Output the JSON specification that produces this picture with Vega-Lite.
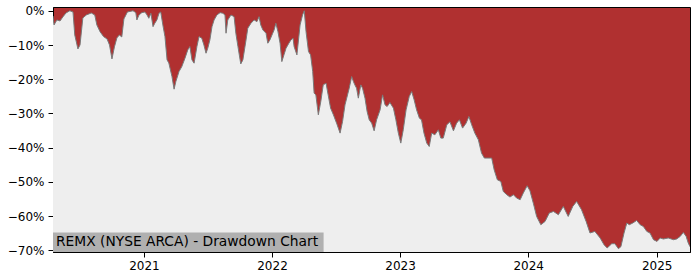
{
"$schema": "https://vega.github.io/schema/vega-lite/v6.json",
"width": 637,
"height": 245,
"autosize": {"type": "none"},
"padding": {"left": 53, "top": 7, "right": 10, "bottom": 28},
"background": "white",
"config": {
  "font": "DejaVu Sans",
  "view": {"fill": "#b03030", "stroke": "#000000", "strokeWidth": 1},
  "axis": {"grid": false, "domainColor": "#000000", "tickColor": "#000000", "labelColor": "#000000", "labelFont": "DejaVu Sans", "labelFontSize": 12, "tickSize": 5, "title": null, "labelOverlap": false}
},
"resolve": {"axis": {"x": "independent", "y": "independent"}},
"datasets": {"dd": [
{"date":"2020-04-17","dd":-1.52},{"date":"2020-04-20","dd":-4.14},{"date":"2020-04-28","dd":-2.68},{"date":"2020-05-07","dd":-2.98},{"date":"2020-05-15","dd":-1.81},{"date":"2020-05-24","dd":-0.64},{"date":"2020-06-04","dd":0},{"date":"2020-06-13","dd":-0.35},{"date":"2020-06-18","dd":-7.06},{"date":"2020-06-27","dd":-11.14},{"date":"2020-07-03","dd":-9.98},{"date":"2020-07-11","dd":-2.10},{"date":"2020-07-21","dd":-1.23},{"date":"2020-08-04","dd":-0.64},{"date":"2020-08-14","dd":-1.23},{"date":"2020-08-20","dd":-4.14},{"date":"2020-08-29","dd":-6.10},{"date":"2020-09-08","dd":-7.55},{"date":"2020-09-18","dd":-8.23},{"date":"2020-09-25","dd":-9.98},{"date":"2020-10-02","dd":-14.06},{"date":"2020-10-09","dd":-10.56},{"date":"2020-10-16","dd":-7.93},{"date":"2020-10-23","dd":-7.06},{"date":"2020-10-30","dd":-7.64},{"date":"2020-11-05","dd":-2.39},{"date":"2020-11-15","dd":-0.35},{"date":"2020-12-01","dd":0},{"date":"2020-12-09","dd":-0.55},{"date":"2020-12-12","dd":-2.68},{"date":"2020-12-18","dd":-1.23},{"date":"2020-12-26","dd":-0.55},
{"date":"2021-01-04","dd":-0.35},{"date":"2021-01-10","dd":-1.23},{"date":"2021-01-15","dd":-2.19},{"date":"2021-01-21","dd":-0.73},{"date":"2021-01-27","dd":-4.64},{"date":"2021-02-01","dd":-3.65},{"date":"2021-02-07","dd":-2.68},{"date":"2021-02-13","dd":-0.73},{"date":"2021-02-18","dd":-0.35},{"date":"2021-02-24","dd":-4.14},{"date":"2021-03-02","dd":-7.55},{"date":"2021-03-08","dd":-14.35},{"date":"2021-03-13","dd":-15.23},{"date":"2021-03-22","dd":-19.22},{"date":"2021-03-28","dd":-22.90},{"date":"2021-04-02","dd":-20.68},{"date":"2021-04-11","dd":-17.76},{"date":"2021-04-19","dd":-16.31},{"date":"2021-04-28","dd":-13.86},{"date":"2021-05-06","dd":-11.43},{"date":"2021-05-12","dd":-10.47},{"date":"2021-05-18","dd":-14.35},{"date":"2021-05-24","dd":-15.31},{"date":"2021-06-01","dd":-10.47},{"date":"2021-06-07","dd":-7.55},{"date":"2021-06-15","dd":-8.02},{"date":"2021-06-21","dd":-9.98},{"date":"2021-06-27","dd":-12.40},{"date":"2021-07-02","dd":-10.94},{"date":"2021-07-08","dd":-8.52},{"date":"2021-07-14","dd":-4.64},{"date":"2021-07-20","dd":-2.68},{"date":"2021-07-28","dd":-1.23},{"date":"2021-08-06","dd":-0.55},{"date":"2021-08-14","dd":-0.73},{"date":"2021-08-20","dd":-1.23},{"date":"2021-08-23","dd":-6.56},{"date":"2021-08-28","dd":-2.68},{"date":"2021-09-06","dd":-1.23},{"date":"2021-09-15","dd":-1.72},{"date":"2021-09-20","dd":-6.56},{"date":"2021-09-26","dd":-10.47},{"date":"2021-10-04","dd":-15.52},{"date":"2021-10-10","dd":-14.35},{"date":"2021-10-19","dd":-8.52},{"date":"2021-10-24","dd":-5.10},{"date":"2021-11-02","dd":-3.65},{"date":"2021-11-11","dd":-2.68},{"date":"2021-11-19","dd":-3.18},{"date":"2021-11-25","dd":-1.72},{"date":"2021-11-30","dd":-4.14},{"date":"2021-12-06","dd":-5.60},{"date":"2021-12-15","dd":-6.56},{"date":"2021-12-20","dd":-9.48},{"date":"2021-12-26","dd":-8.52},
{"date":"2022-01-03","dd":-6.56},{"date":"2022-01-07","dd":-5.60},{"date":"2022-01-12","dd":-3.65},{"date":"2022-01-18","dd":-6.10},{"date":"2022-01-24","dd":-9.48},{"date":"2022-01-29","dd":-14.85},{"date":"2022-02-04","dd":-12.89},{"date":"2022-02-10","dd":-10.94},{"date":"2022-02-18","dd":-9.48},{"date":"2022-02-24","dd":-8.52},{"date":"2022-03-02","dd":-8.02},{"date":"2022-03-05","dd":-10.47},{"date":"2022-03-13","dd":-12.89},{"date":"2022-03-22","dd":-4.14},{"date":"2022-03-29","dd":-1.23},{"date":"2022-04-03","dd":0},{"date":"2022-04-08","dd":-6.10},{"date":"2022-04-15","dd":-11.93},{"date":"2022-04-21","dd":-12.89},{"date":"2022-04-27","dd":-17.76},{"date":"2022-05-01","dd":-24.06},{"date":"2022-05-06","dd":-24.56},{"date":"2022-05-13","dd":-30.39},{"date":"2022-05-20","dd":-26.51},{"date":"2022-05-27","dd":-21.64},{"date":"2022-06-04","dd":-21.15},{"date":"2022-06-10","dd":-24.56},{"date":"2022-06-17","dd":-28.44},{"date":"2022-06-25","dd":-30.39},{"date":"2022-07-04","dd":-32.82},{"date":"2022-07-14","dd":-35.73},{"date":"2022-07-21","dd":-32.35},{"date":"2022-07-28","dd":-27.48},{"date":"2022-08-09","dd":-22.61},{"date":"2022-08-16","dd":-19.22},{"date":"2022-08-21","dd":-20.68},{"date":"2022-08-25","dd":-21.64},{"date":"2022-08-30","dd":-22.61},{"date":"2022-09-04","dd":-25.52},{"date":"2022-09-11","dd":-21.64},{"date":"2022-09-16","dd":-22.61},{"date":"2022-09-23","dd":-25.52},{"date":"2022-09-29","dd":-29.43},{"date":"2022-10-05","dd":-31.85},{"date":"2022-10-12","dd":-32.82},{"date":"2022-10-19","dd":-35.06},{"date":"2022-10-26","dd":-31.85},{"date":"2022-11-05","dd":-28.94},{"date":"2022-11-12","dd":-24.56},{"date":"2022-11-19","dd":-27.48},{"date":"2022-11-25","dd":-27.97},{"date":"2022-12-03","dd":-26.81},{"date":"2022-12-13","dd":-28.44},{"date":"2022-12-20","dd":-31.85},{"date":"2022-12-27","dd":-35.73},
{"date":"2023-01-03","dd":-38.65},{"date":"2023-01-10","dd":-34.77},{"date":"2023-01-18","dd":-28.94},{"date":"2023-01-27","dd":-25.06},{"date":"2023-02-03","dd":-23.60},{"date":"2023-02-10","dd":-26.02},{"date":"2023-02-17","dd":-28.94},{"date":"2023-02-25","dd":-31.36},{"date":"2023-03-03","dd":-31.85},{"date":"2023-03-10","dd":-35.73},{"date":"2023-03-18","dd":-38.65},{"date":"2023-03-25","dd":-39.64},{"date":"2023-04-01","dd":-35.73},{"date":"2023-04-10","dd":-36.23},{"date":"2023-04-20","dd":-34.77},{"date":"2023-04-27","dd":-37.19},{"date":"2023-05-04","dd":-37.19},{"date":"2023-05-14","dd":-33.31},{"date":"2023-05-23","dd":-32.44},{"date":"2023-06-02","dd":-35.06},{"date":"2023-06-11","dd":-32.82},{"date":"2023-06-19","dd":-31.85},{"date":"2023-06-28","dd":-34.27},{"date":"2023-07-08","dd":-32.82},{"date":"2023-07-16","dd":-30.89},{"date":"2023-07-24","dd":-33.31},{"date":"2023-08-02","dd":-35.73},{"date":"2023-08-12","dd":-37.69},{"date":"2023-08-21","dd":-41.57},{"date":"2023-08-29","dd":-43.02},{"date":"2023-09-19","dd":-43.02},{"date":"2023-09-26","dd":-46.44},{"date":"2023-10-05","dd":-49.35},{"date":"2023-10-15","dd":-49.85},{"date":"2023-10-22","dd":-52.77},{"date":"2023-11-01","dd":-53.73},{"date":"2023-11-10","dd":-54.40},{"date":"2023-11-20","dd":-53.73},{"date":"2023-11-29","dd":-54.69},{"date":"2023-12-09","dd":-55.19},{"date":"2023-12-18","dd":-53.23},{"date":"2023-12-29","dd":-51.11},
{"date":"2024-01-06","dd":-52.56},{"date":"2024-01-16","dd":-56.36},{"date":"2024-01-25","dd":-60.06},{"date":"2024-02-06","dd":-62.48},{"date":"2024-02-18","dd":-61.52},{"date":"2024-03-01","dd":-59.07},{"date":"2024-03-13","dd":-58.60},{"date":"2024-03-27","dd":-59.57},{"date":"2024-04-10","dd":-57.14},{"date":"2024-04-24","dd":-60.06},{"date":"2024-05-07","dd":-57.14},{"date":"2024-05-18","dd":-55.68},{"date":"2024-06-01","dd":-58.11},{"date":"2024-06-14","dd":-61.52},{"date":"2024-06-25","dd":-64.90},{"date":"2024-07-09","dd":-64.44},{"date":"2024-07-24","dd":-66.36},{"date":"2024-08-04","dd":-68.32},{"date":"2024-08-13","dd":-69.28},{"date":"2024-08-26","dd":-68.03},{"date":"2024-09-04","dd":-68.03},{"date":"2024-09-14","dd":-69.48},{"date":"2024-09-21","dd":-68.90},{"date":"2024-09-30","dd":-64.90},{"date":"2024-10-08","dd":-61.99},{"date":"2024-10-15","dd":-62.48},{"date":"2024-10-25","dd":-61.99},{"date":"2024-11-05","dd":-61.23},{"date":"2024-11-15","dd":-62.48},{"date":"2024-11-24","dd":-62.98},{"date":"2024-12-04","dd":-64.44},{"date":"2024-12-13","dd":-64.90},{"date":"2024-12-23","dd":-66.86},
{"date":"2025-01-02","dd":-67.35},{"date":"2025-01-11","dd":-66.36},{"date":"2025-01-20","dd":-66.65},{"date":"2025-02-03","dd":-66.36},{"date":"2025-02-18","dd":-66.86},{"date":"2025-02-27","dd":-66.65},{"date":"2025-03-09","dd":-65.89},{"date":"2025-03-18","dd":-64.73},{"date":"2025-03-26","dd":-65.89},{"date":"2025-04-01","dd":-67.82},{"date":"2025-04-06","dd":-68.90}
],
"label": [{"label": "REMX (NYSE ARCA) - Drawdown Chart", "start": "2020-04-17", "end": "2022-05-28", "low": -70.45, "high": -64.73, "mid": -67.5}]
},
"layer": [
  {"data": {"name": "dd"},
   "mark": {"type": "area", "color": "#eeeeee", "opacity": 1, "clip": true},
   "encoding": {
     "x": {"field": "date", "type": "temporal",
           "scale": {"domain": [{"year": 2020, "month": 4, "date": 17}, {"year": 2025, "month": 4, "date": 6}], "nice": false},
           "axis": {"tickCount": {"interval": "year", "step": 1}, "format": "%Y", "labelPadding": 3, "labelFlush": false, "labelOverlap": false}},
     "y": {"field": "dd", "type": "quantitative",
           "scale": {"domain": [-70.45, 1.1], "nice": false, "zero": false},
           "axis": {"values": [0, -10, -20, -30, -40, -50, -60, -70], "labelExpr": "(datum.value < 0 ? '−' : '') + abs(datum.value) + '%'", "labelPadding": 4, "labelOverlap": false}},
     "y2": {"datum": -70.45}}},
  {"data": {"name": "dd"},
   "mark": {"type": "line", "color": "#7a7a7a", "strokeWidth": 1, "clip": true},
   "encoding": {
     "x": {"field": "date", "type": "temporal", "axis": null},
     "y": {"field": "dd", "type": "quantitative", "axis": null}}},
  {"data": {"name": "label"},
   "mark": {"type": "rect", "color": "#b0b0b0", "opacity": 1},
   "encoding": {
     "x": {"field": "start", "type": "temporal", "axis": null},
     "x2": {"field": "end"},
     "y": {"field": "low", "type": "quantitative", "axis": null},
     "y2": {"field": "high"}}},
  {"data": {"name": "label"},
   "mark": {"type": "text", "align": "left", "baseline": "middle", "dx": 3, "fontSize": 13.8, "color": "#000000", "font": "DejaVu Sans"},
   "encoding": {
     "text": {"field": "label"},
     "x": {"field": "start", "type": "temporal", "axis": null},
     "y": {"field": "mid", "type": "quantitative", "axis": null}}}
]
}
